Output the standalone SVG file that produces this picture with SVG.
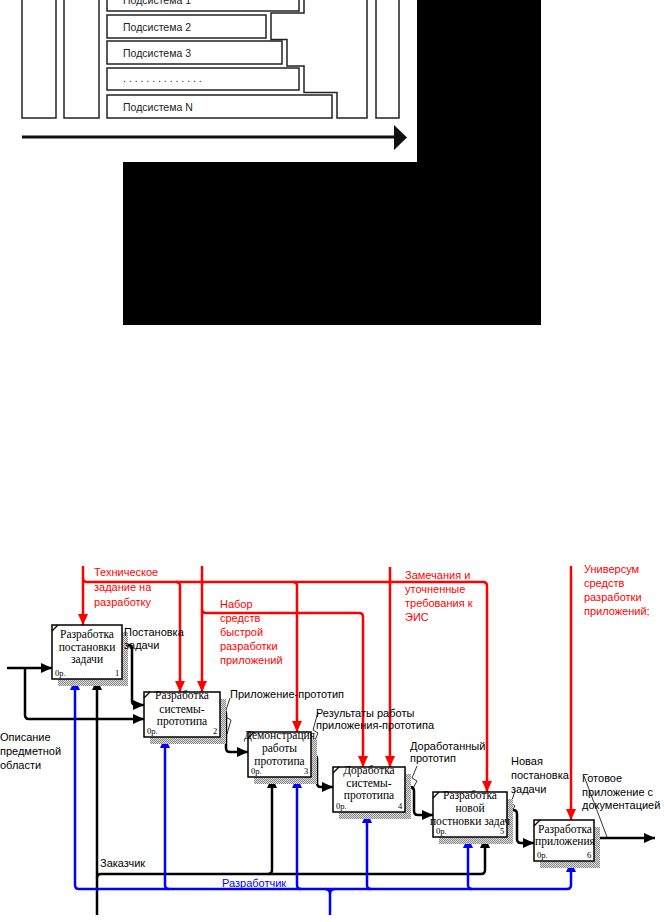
<svg xmlns="http://www.w3.org/2000/svg" width="664" height="922" viewBox="0 0 664 922">
<defs>
<pattern id="hatch" width="2" height="2" patternUnits="userSpaceOnUse"><rect width="2" height="2" fill="#ddd"/><rect width="1" height="1" fill="#888"/><rect x="1" y="1" width="1" height="1" fill="#888"/></pattern>
<marker id="ak" markerUnits="userSpaceOnUse" markerWidth="12" markerHeight="10" refX="11" refY="5" orient="auto-start-reverse"><path d="M0,0 L11,5 L0,10 Z" fill="#000"/></marker>
<marker id="ar" markerUnits="userSpaceOnUse" markerWidth="12" markerHeight="10" refX="11" refY="5" orient="auto-start-reverse"><path d="M0,0 L11,5 L0,10 Z" fill="#f00"/></marker>
<marker id="ab" markerUnits="userSpaceOnUse" markerWidth="12" markerHeight="10" refX="11" refY="5" orient="auto-start-reverse"><path d="M0,0 L11,5 L0,10 Z" fill="#00f"/></marker>
</defs>
<style>
.sub{fill:#fff;stroke:#222;stroke-width:1.5}
.st{font-family:"Liberation Sans",Arial,sans-serif;font-size:10.5px;fill:#222}
.box{fill:#fff;stroke:#000;stroke-width:1.5}
.sh{fill:url(#hatch)}
.bt{font-family:"Liberation Serif","Times New Roman",serif;font-size:11.5px;fill:#000;text-anchor:middle}
.bs{font-family:"Liberation Serif","Times New Roman",serif;font-size:8.5px;fill:#000}
.lbl{font-family:"Liberation Sans",Arial,sans-serif;font-size:11px;fill:#000}
.lr{font-family:"Liberation Sans",Arial,sans-serif;font-size:11px;fill:#f00}
.lb{font-family:"Liberation Sans",Arial,sans-serif;font-size:11px;fill:#00f}
.k{fill:none;stroke:#000;stroke-width:2.5}
.r{fill:none;stroke:#f00;stroke-width:2.5}
.b{fill:none;stroke:#00f;stroke-width:2.5}
.thin{fill:none;stroke:#000;stroke-width:0.8}
</style>
<rect width="664" height="922" fill="#fff"/>

<g id="top-panel">
<rect class="sub" x="22" y="-5" width="34" height="123"/>
<rect class="sub" x="64" y="-5" width="35" height="123"/>
<rect class="sub" x="107" y="-12" width="192" height="23"/>
<text class="st" x="123" y="4">Подсистема 1</text>
<rect class="sub" x="107" y="15" width="159" height="23"/>
<text class="st" x="123" y="31">Подсистема 2</text>
<rect class="sub" x="107" y="41" width="175" height="23"/>
<text class="st" x="123" y="57">Подсистема 3</text>
<rect class="sub" x="107" y="68" width="192" height="22"/>
<text class="st" x="123" y="82">. . . . . . . . . . . . . .</text>
<rect class="sub" x="107" y="95" width="225" height="23"/>
<text class="st" x="123" y="111">Подсистема N</text>
<path class="sub" d="M304,-5 V13 H271 V39.5 H287 V66 H304 V92.5 H337 V118 H367 V-5"/>
<rect class="sub" x="376" y="-5" width="23" height="123"/>
<path d="M22,137 H396" stroke="#111" stroke-width="3"/>
<path d="M394,125 L407,137.5 L394,150 Z" fill="#111"/>
</g>
<path id="black-panel" d="M417,0 H541 V325 H123 V162 H417 Z" fill="#000"/>

<g id="connectors">
<!-- red controls -->
<path class="r" d="M83,566 V625" marker-end="url(#ar)"/>
<path class="r" d="M83,578 Q83,582 87,582 H483 Q487,582 487,586 V792" marker-end="url(#ar)"/>
<path class="r" d="M176,582 Q180,582 180,586 V692" marker-end="url(#ar)"/>
<path class="r" d="M293,582 Q297,582 297,586 V732" marker-end="url(#ar)"/>
<path class="r" d="M202,566 V692" marker-end="url(#ar)"/>
<path class="r" d="M202,609 Q202,613 206,613 H359 Q363,613 363,617 V767" marker-end="url(#ar)"/>
<path class="r" d="M390,567 V767" marker-end="url(#ar)"/>
<path class="r" d="M571,566 V820" marker-end="url(#ar)"/>
<!-- black flows -->
<path class="k" d="M7,668 H52" marker-end="url(#ak)"/>
<path class="k" d="M25,668 V715 Q25,719 29,719 H144" marker-end="url(#ak)"/>
<path class="k" d="M122,645 H128 Q132,645 132,649 V701 Q132,705 136,705 H144" marker-end="url(#ak)"/>
<path class="k" d="M220,710 H222 Q226,710 226,714 V748 Q226,752 230,752 H248" marker-end="url(#ak)"/>
<path class="k" d="M311,755 H313 Q317,755 317,759 V783 Q317,787 321,787 H333" marker-end="url(#ak)"/>
<path class="k" d="M405,787 H410 Q414,787 414,791 V811 Q414,815 418,815 H433" marker-end="url(#ak)"/>
<path class="k" d="M507,810 H513 Q517,810 517,814 V839 Q517,843 521,843 H534" marker-end="url(#ak)"/>
<path class="k" d="M594,838 H655" marker-end="url(#ak)"/>
<path class="k" d="M97,915 V679" marker-end="url(#ak)"/>
<path class="k" d="M97,878 Q97,874 101,874 H481 Q485,874 485,870 V837" marker-end="url(#ak)"/>
<path class="k" d="M268,874 Q272,874 272,870 V777" marker-end="url(#ak)"/>
<!-- blue mechanisms -->
<path class="b" d="M75,679 V885 Q75,889 79,889 H567 Q571,889 571,885 V861" marker-start="url(#ab)" marker-end="url(#ab)"/>
<path class="b" d="M169,889 Q165,889 165,885 V737" marker-end="url(#ab)"/>
<path class="b" d="M301,889 Q297,889 297,885 V777" marker-end="url(#ab)"/>
<path class="b" d="M371,889 Q367,889 367,885 V812" marker-end="url(#ab)"/>
<path class="b" d="M472,889 Q468,889 468,885 V837" marker-end="url(#ab)"/>
<path class="b" d="M325,889 Q330,889 330,894 V915 M335,889 Q330,889 330,894"/>
<!-- leader squiggles -->
<path class="thin" d="M230,698 L224,716 L231,720 L227,734"/>
<path class="thin" d="M318,712 L313,730 L318,733 L313,745"/>
<path class="thin" d="M417,766 L412,778 L417,781 L412,790"/>
<path class="thin" d="M515,791 L511,803 L515,806 L511,812"/>
<path class="thin" d="M584,776 L607,837"/>
</g>

<g id="box1">
<rect class="sh" x="58" y="632" width="70" height="54"/>
<rect class="box" x="52" y="625" width="70" height="54"/>
<path d="M52,631 L58,625" stroke="#000" stroke-width="1.2"/>
<text class="bt" x="87" y="638">Разработка</text>
<text class="bt" x="87" y="650.5">постановки</text>
<text class="bt" x="87" y="663">задачи</text>
<text class="bs" x="55" y="676">0р.</text>
<text class="bs" x="115" y="676">1</text>
</g>
<g id="box2">
<rect class="sh" x="150" y="699" width="76" height="45"/>
<rect class="box" x="144" y="692" width="76" height="45"/>
<path d="M144,698 L150,692" stroke="#000" stroke-width="1.2"/>
<text class="bt" x="182" y="699">Разработка</text>
<text class="bt" x="182" y="712.5">системы-</text>
<text class="bt" x="182" y="725">прототипа</text>
<text class="bs" x="147" y="734">0р.</text>
<text class="bs" x="213" y="734">2</text>
</g>
<g id="box3">
<rect class="sh" x="254" y="739" width="63" height="45"/>
<rect class="box" x="248" y="732" width="63" height="45"/>
<path d="M248,738 L254,732" stroke="#000" stroke-width="1.2"/>
<text class="bt" x="279.5" y="739">Демонстрация</text>
<text class="bt" x="279.5" y="752">работы</text>
<text class="bt" x="279.5" y="765">прототипа</text>
<text class="bs" x="251" y="774">0р.</text>
<text class="bs" x="304" y="774">3</text>
</g>
<g id="box4">
<rect class="sh" x="339" y="774" width="72" height="45"/>
<rect class="box" x="333" y="767" width="72" height="45"/>
<path d="M333,773 L339,767" stroke="#000" stroke-width="1.2"/>
<text class="bt" x="369" y="774">Доработка</text>
<text class="bt" x="369" y="787">системы-</text>
<text class="bt" x="369" y="799">прототипа</text>
<text class="bs" x="336" y="809">0р.</text>
<text class="bs" x="398" y="809">4</text>
</g>
<g id="box5">
<rect class="sh" x="439" y="799" width="74" height="45"/>
<rect class="box" x="433" y="792" width="74" height="45"/>
<path d="M433,798 L439,792" stroke="#000" stroke-width="1.2"/>
<text class="bt" x="470" y="799">Разработка</text>
<text class="bt" x="470" y="812">новой</text>
<text class="bt" x="470" y="825">постновки задач</text>
<text class="bs" x="436" y="834">0р.</text>
<text class="bs" x="500" y="834">5</text>
</g>
<g id="box6">
<rect class="sh" x="540" y="827" width="60" height="41"/>
<rect class="box" x="534" y="820" width="60" height="41"/>
<path d="M534,826 L540,820" stroke="#000" stroke-width="1.2"/>
<text class="bt" x="565" y="833">Разработка</text>
<text class="bt" x="565" y="845">приложения</text>
<text class="bs" x="537" y="858">0р.</text>
<text class="bs" x="587" y="858">6</text>
</g>

<g id="labels">
<text class="lr" x="94" y="576">Техническое</text>
<text class="lr" x="94" y="591">задание на</text>
<text class="lr" x="94" y="606">разработку</text>
<text class="lr" x="220" y="608">Набор</text>
<text class="lr" x="220" y="621.5">средств</text>
<text class="lr" x="220" y="635.5">быстрой</text>
<text class="lr" x="220" y="649.5">разработки</text>
<text class="lr" x="220" y="663.5">приложений</text>
<text class="lr" x="405" y="579">Замечания и</text>
<text class="lr" x="405" y="593">уточненные</text>
<text class="lr" x="405" y="607">требования к</text>
<text class="lr" x="405" y="621">ЭИС</text>
<text class="lr" x="584" y="573">Универсум</text>
<text class="lr" x="584" y="587">средств</text>
<text class="lr" x="584" y="601">разработки</text>
<text class="lr" x="584" y="615">приложений;</text>
<text class="lbl" x="124" y="636">Постановка</text>
<text class="lbl" x="124" y="649">задачи</text>
<text class="lbl" x="230" y="698">Приложение-прототип</text>
<text class="lbl" x="316" y="717">Результаты работы</text>
<text class="lbl" x="316" y="729">приложения-прототипа</text>
<text class="lbl" x="410" y="750">Доработанный</text>
<text class="lbl" x="410" y="762">прототип</text>
<text class="lbl" x="511" y="765">Новая</text>
<text class="lbl" x="511" y="779">постановка</text>
<text class="lbl" x="511" y="793">задачи</text>
<text class="lbl" x="582" y="782">Готовое</text>
<text class="lbl" x="582" y="796">приложение с</text>
<text class="lbl" x="582" y="809">документацией</text>
<text class="lbl" x="0" y="741">Описание</text>
<text class="lbl" x="0" y="755">предметной</text>
<text class="lbl" x="0" y="769">области</text>
<text class="lbl" x="100" y="867">Заказчик</text>
<text class="lb" x="222" y="887">Разработчик</text>
</g>
</svg>
